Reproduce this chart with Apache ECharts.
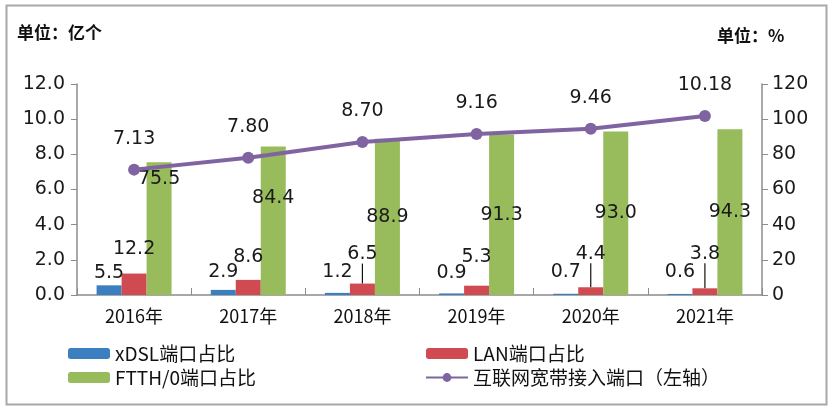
<!DOCTYPE html>
<html><head><meta charset="utf-8">
<script src="https://cdn.jsdelivr.net/npm/echarts@6/dist/echarts.min.js"></script>
<style>html,body{margin:0;padding:0;background:#fff}#c{width:835px;height:410px}</style>
</head><body><div id="c"></div>
<script>
// ---- data ----
const categories = ['2016年','2017年','2018年','2019年','2020年','2021年'];
const xdslShare = [5.5, 2.9, 1.2, 0.9, 0.7, 0.6];
const lanShare = [12.2, 8.6, 6.5, 5.3, 4.4, 3.8];
const ftthShare = [75.5, 84.4, 88.9, 91.3, 93.0, 94.3];
const broadbandPorts = [7.13, 7.80, 8.70, 9.16, 9.46, 10.18];
const leftAxisTicks = [0, 12, 2];
const rightAxisTicks = [0, 120, 20];

// ---- label layout tweaks (styling, not data) ----
const blueDy = [2, -3, -6, -6, -7, -7];
const redDy = [-10, -8, -15, -14, -19, -20];
const redLeader = [false, false, true, false, true, true];
const greenDy = [-50, -23, 0, 0, 0, 0];

const numFont = { fontFamily: 'DejaVu Sans', fontSize: 19, color: '#1a1a1a' };
const cjk = '"Noto Sans CJK SC", "DejaVu Sans", sans-serif';

const chart = echarts.init(document.getElementById('c'), null, { renderer: 'canvas' });
chart.setOption({
  animation: false,
  backgroundColor: '#fff',
  graphic: [{
    type: 'rect', left: 4, top: 3, shape: { width: 820, height: 399 },
    style: { fill: 'none', stroke: '#a8a8a8', lineWidth: 2 }, z: -1
  }],
  title: [
    { text: '单位：亿个', left: 12, top: 19,
      textStyle: { fontFamily: cjk, fontSize: 17, fontWeight: 'bold', color: '#111' } },
    { text: '单位：%', left: 712, top: 22,
      textStyle: { fontFamily: cjk, fontSize: 17, fontWeight: 'bold', color: '#111' } }
  ],
  legend: [
    { data: ['xDSL端口占比', 'FTTH/0端口占比'], orient: 'vertical', left: 63, top: 339,
      itemWidth: 42, itemHeight: 11, itemGap: 5,
      textStyle: { fontFamily: cjk, fontSize: 19, color: '#111' } },
    { data: ['LAN端口占比', '互联网宽带接入端口（左轴）'], orient: 'vertical', left: 420, top: 339,
      itemWidth: 42, itemHeight: 11, itemGap: 5,
      textStyle: { fontFamily: cjk, fontSize: 19, color: '#111' } }
  ],
  grid: { left: 77, right: 73, top: 84, bottom: 115, containLabel: false },
  xAxis: {
    type: 'category', data: categories, boundaryGap: true,
    axisLine: { lineStyle: { color: '#8c8c8c', width: 1.5 } },
    axisTick: { show: true, inside: true, length: 7, lineStyle: { color: '#8c8c8c' } },
    axisLabel: { fontFamily: cjk, fontSize: 18, color: '#111', margin: 12 }
  },
  yAxis: [
    { type: 'value', min: leftAxisTicks[0], max: leftAxisTicks[1], interval: leftAxisTicks[2],
      splitLine: { show: false },
      axisLine: { show: true, lineStyle: { color: '#8c8c8c', width: 1.5 } },
      axisTick: { show: true, length: 6, lineStyle: { color: '#8c8c8c' } },
      axisLabel: Object.assign({ formatter: v => v.toFixed(1), margin: 12 }, numFont) },
    { type: 'value', min: rightAxisTicks[0], max: rightAxisTicks[1], interval: rightAxisTicks[2],
      splitLine: { show: false },
      axisLine: { show: true, lineStyle: { color: '#8c8c8c', width: 1.5 } },
      axisTick: { show: true, length: 6, lineStyle: { color: '#8c8c8c' } },
      axisLabel: Object.assign({ margin: 10 }, numFont) }
  ],
  series: [
    { name: 'xDSL端口占比', type: 'bar', yAxisIndex: 1, barWidth: 25, barGap: '0%',
      itemStyle: { color: '#3b7fc0' }, data: xdslShare,
      label: Object.assign({ show: true, position: 'top', distance: 5 }, numFont),
      labelLayout: p => ({ dy: blueDy[p.dataIndex] }) },
    { name: 'LAN端口占比', type: 'bar', yAxisIndex: 1, barWidth: 25, barGap: '0%',
      itemStyle: { color: '#cf4b51' },
      data: lanShare.map((v, i) => ({ value: v, labelLine: { show: redLeader[i] } })),
      label: Object.assign({ show: true, position: 'top', distance: 5 }, numFont),
      labelLine: { show: false, lineStyle: { color: '#111', width: 1.2 } },
      labelLayout: p => ({ dy: redDy[p.dataIndex] }) },
    { name: 'FTTH/0端口占比', type: 'bar', yAxisIndex: 1, barWidth: 25, barGap: '0%',
      itemStyle: { color: '#98bb5c' }, data: ftthShare,
      label: Object.assign({ show: true, position: 'inside', formatter: p => p.value.toFixed(1) }, numFont),
      labelLayout: p => ({ dy: greenDy[p.dataIndex] }) },
    { name: '互联网宽带接入端口（左轴）', type: 'line', yAxisIndex: 0, z: 5,
      data: broadbandPorts, symbol: 'circle', symbolSize: 12,
      lineStyle: { color: '#8064a2', width: 4 }, itemStyle: { color: '#8064a2' },
      label: Object.assign({ show: true, position: 'top', distance: 15,
        formatter: p => p.value.toFixed(2) }, numFont) }
  ]
});
</script></body></html>
